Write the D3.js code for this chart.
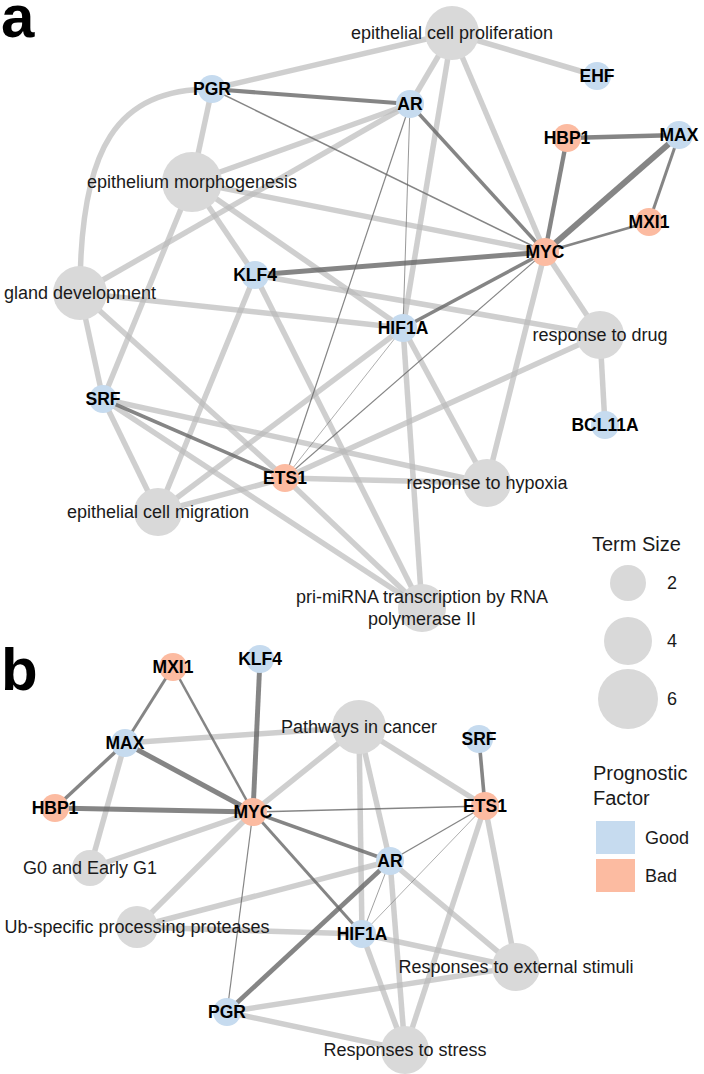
<!DOCTYPE html>
<html><head><meta charset="utf-8">
<script src="https://cdn.jsdelivr.net/npm/d3@7"></script>
<style>
html,body{margin:0;padding:0;background:#fff;}
svg{display:block;font-family:"Liberation Sans",Arial,Helvetica,sans-serif;}
</style></head>
<body>
<svg id="chart" width="704" height="1074"></svg>
<script>
// ---------- DATA ----------
// Panel a: gene nodes [name, layoutX, layoutY, prognosis]
const genesA = [
  ["PGR",21.2,8.9,"Good"],["AR",41.0,10.4,"Good"],["EHF",59.7,7.6,"Good"],
  ["HBP1",56.7,13.8,"Bad"],["MAX",67.9,13.5,"Good"],["MXI1",64.9,22.2,"Bad"],
  ["MYC",54.5,25.2,"Bad"],["KLF4",25.5,27.5,"Good"],["HIF1A",40.3,32.8,"Good"],
  ["BCL11A",60.5,42.5,"Good"],["SRF",10.3,39.9,"Good"],["ETS1",28.5,47.8,"Bad"]
];
// Panel a: term nodes [label, layoutX, layoutY, termSize]
const termsA = [
  ["epithelial cell proliferation",45.2,3.3,5],
  ["epithelium morphogenesis",19.2,18.2,6],
  ["gland development",8.0,29.3,5],
  ["response to drug",60.0,33.5,4],
  ["response to hypoxia",48.7,48.3,4],
  ["epithelial cell migration",15.8,51.2,4],
  ["pri-miRNA transcription by RNA\npolymerase II",42.2,60.8,4]
];
// Panel a: term-gene edges [term, gene, curved]
const termEdgesA = [
  ["epithelial cell proliferation","PGR"],["epithelial cell proliferation","EHF"],
  ["epithelial cell proliferation","AR"],["epithelial cell proliferation","HIF1A"],
  ["epithelial cell proliferation","MYC"],
  ["epithelium morphogenesis","PGR"],["epithelium morphogenesis","AR"],
  ["epithelium morphogenesis","MYC"],["epithelium morphogenesis","HIF1A"],
  ["epithelium morphogenesis","KLF4"],["epithelium morphogenesis","SRF"],
  ["gland development","PGR",true],["gland development","AR"],
  ["gland development","HIF1A"],["gland development","SRF"],["gland development","ETS1"],
  ["response to drug","MYC"],["response to drug","KLF4"],["response to drug","BCL11A"],
  ["response to drug","ETS1"],
  ["response to hypoxia","MYC"],["response to hypoxia","HIF1A"],
  ["response to hypoxia","SRF"],["response to hypoxia","ETS1"],
  ["epithelial cell migration","SRF"],["epithelial cell migration","KLF4"],
  ["epithelial cell migration","HIF1A"],["epithelial cell migration","ETS1"],
  ["pri-miRNA transcription by RNA\npolymerase II","SRF"],
  ["pri-miRNA transcription by RNA\npolymerase II","KLF4"],
  ["pri-miRNA transcription by RNA\npolymerase II","HIF1A"],
  ["pri-miRNA transcription by RNA\npolymerase II","ETS1"]
];
// Panel a: gene-gene interaction edges [gene, gene, score]
const geneEdgesA = [
  ["PGR","AR",0.68],["PGR","MYC",0.25],["AR","MYC",0.58],["AR","HIF1A",0.14],
  ["AR","ETS1",0.2],["HBP1","MAX",0.72],["HBP1","MYC",0.72],["MAX","MYC",1.0],
  ["MAX","MXI1",0.5],["MXI1","MYC",0.42],["KLF4","MYC",0.82],["HIF1A","MYC",0.6],
  ["MYC","ETS1",0.18],["HIF1A","ETS1",0.11],["SRF","ETS1",0.6]
];

// Panel b
const genesB = [
  ["MXI1",17.3,2.7,"Bad"],["KLF4",26.0,1.9,"Good"],["MAX",12.5,10.3,"Good"],
  ["HBP1",5.5,16.8,"Bad"],["MYC",25.3,17.2,"Bad"],["SRF",47.9,9.9,"Good"],
  ["ETS1",48.5,16.6,"Bad"],["AR",39.0,22.1,"Good"],["HIF1A",36.2,29.4,"Good"],
  ["PGR",22.7,37.2,"Good"]
];
const termsB = [
  ["Pathways in cancer",35.9,8.7,5],
  ["G0 and Early G1",9.0,22.8,2],
  ["Ub-specific processing proteases",13.7,28.7,3],
  ["Responses to external stimuli",51.6,32.7,4],
  ["Responses to stress",40.5,41.0,4]
];
const termEdgesB = [
  ["Pathways in cancer","MAX"],["Pathways in cancer","MYC"],["Pathways in cancer","ETS1"],
  ["Pathways in cancer","AR"],["Pathways in cancer","HIF1A"],
  ["G0 and Early G1","MAX"],["G0 and Early G1","MYC"],
  ["Ub-specific processing proteases","MYC"],["Ub-specific processing proteases","AR"],
  ["Ub-specific processing proteases","HIF1A"],
  ["Responses to external stimuli","AR"],["Responses to external stimuli","ETS1"],
  ["Responses to external stimuli","HIF1A"],["Responses to external stimuli","PGR"],
  ["Responses to stress","PGR"],["Responses to stress","HIF1A"],
  ["Responses to stress","AR"],["Responses to stress","ETS1"]
];
const geneEdgesB = [
  ["MXI1","MAX",0.5],["MXI1","MYC",0.42],["KLF4","MYC",0.82],["MAX","MYC",0.85],
  ["MAX","HBP1",0.58],["HBP1","MYC",0.85],["MYC","ETS1",0.22],["MYC","AR",0.58],
  ["MYC","HIF1A",0.5],["MYC","PGR",0.2],["SRF","ETS1",0.6],["ETS1","AR",0.22],
  ["ETS1","HIF1A",0.11],["AR","HIF1A",0.13],["AR","PGR",0.78]
];

// Legend data
const sizeLegend = [2,4,6];
const prognosisCats = ["Good","Bad"];

// ---------- STYLE / SCALES ----------
const svg = d3.select("#chart");
const W = 704, H = 1074;
const x = d3.scaleLinear().domain([0,70.4]).range([0,W]);
const yA = d3.scaleLinear().domain([0,64]).range([0,640]);
const yB = d3.scaleLinear().domain([0,43.4]).range([640,H]);
const rTerm = d3.scaleLinear().domain([2,6]).range([18,30]);
const wEdge = d3.scaleLinear().domain([0,1]).range([0,6]);
const color = d3.scaleOrdinal().domain(prognosisCats).range(["#c6dbef","#fcbba1"]);
const geneR = 14;
const termFill = "#d9d9d9";

function drawPanel(genes, terms, termEdges, geneEdges, y, letter, letterY) {
  const g = svg.append("g");
  const pos = new Map();
  genes.forEach(d => pos.set(d[0], {x: x(d[1]), y: y(d[2])}));
  terms.forEach(d => pos.set(d[0], {x: x(d[1]), y: y(d[2])}));

  // light term-gene edges
  g.append("g").selectAll("path").data(termEdges).join("path")
    .attr("d", d => {
      const s = pos.get(d[0]), t = pos.get(d[1]);
      if (d[2]) {
        const k = 0.72;
        return `M${s.x},${s.y}C${s.x},${s.y + k*(t.y - s.y)} ${t.x - k*(t.x - s.x)},${t.y} ${t.x},${t.y}`;
      }
      return `M${s.x},${s.y}L${t.x},${t.y}`;
    })
    .attr("fill","none").attr("stroke","#bbbbbb").attr("stroke-opacity",0.7)
    .attr("stroke-width",5.5);

  // dark gene-gene edges
  g.append("g").selectAll("line").data(geneEdges).join("line")
    .attr("x1", d => pos.get(d[0]).x).attr("y1", d => pos.get(d[0]).y)
    .attr("x2", d => pos.get(d[1]).x).attr("y2", d => pos.get(d[1]).y)
    .attr("stroke","#666666").attr("stroke-opacity",0.8)
    .attr("stroke-width", d => wEdge(d[2]));

  // term nodes
  g.append("g").selectAll("circle").data(terms).join("circle")
    .attr("cx", d => x(d[1])).attr("cy", d => y(d[2]))
    .attr("r", d => rTerm(d[3])).attr("fill", termFill);

  // gene nodes
  g.append("g").selectAll("circle").data(genes).join("circle")
    .attr("cx", d => x(d[1])).attr("cy", d => y(d[2]))
    .attr("r", geneR).attr("fill", d => color(d[3]));

  // term labels
  const tl = g.append("g").selectAll("text").data(terms).join("text")
    .attr("x", d => x(d[1])).attr("y", d => y(d[2]))
    .attr("text-anchor","middle").attr("font-size",18).attr("fill","#1a1a1a");
  tl.each(function(d) {
    const lines = d[0].split("\n");
    const lh = 22;
    const sel = d3.select(this);
    lines.forEach((ln, i) => {
      sel.append("tspan").attr("x", x(d[1]))
        .attr("y", y(d[2]) + (i - (lines.length - 1) / 2) * lh)
        .attr("dy","0.35em").text(ln);
    });
  });

  // gene labels
  g.append("g").selectAll("text").data(genes).join("text")
    .attr("x", d => x(d[1])).attr("y", d => y(d[2])).attr("dy","0.36em")
    .attr("text-anchor","middle").attr("font-size",17.5).attr("font-weight","bold")
    .attr("fill","#000").text(d => d[0]);

  svg.append("text").attr("x",1).attr("y",letterY)
    .attr("font-size",60).attr("font-weight","bold").attr("fill","#000").text(letter);
}

drawPanel(genesA, termsA, termEdgesA, geneEdgesA, yA, "a", 37);
drawPanel(genesB, termsB, termEdgesB, geneEdgesB, yB, "b", 690);

// ---------- LEGENDS ----------
const leg = svg.append("g");
leg.append("text").attr("x",592).attr("y",551).attr("font-size",20).attr("fill","#1a1a1a").text("Term Size");
const sizeY = d3.scalePoint().domain(sizeLegend).range([583,699]);
leg.selectAll("circle.sz").data(sizeLegend).join("circle").attr("class","sz")
  .attr("cx",628).attr("cy", d => sizeY(d)).attr("r", d => rTerm(d)).attr("fill",termFill);
leg.selectAll("text.sz").data(sizeLegend).join("text").attr("class","sz")
  .attr("x",667).attr("y", d => sizeY(d)).attr("dy","0.36em")
  .attr("font-size",18).attr("fill","#1a1a1a").text(d => d);

leg.append("text").attr("x",593).attr("y",780).attr("font-size",20).attr("fill","#1a1a1a").text("Prognostic");
leg.append("text").attr("x",593).attr("y",805).attr("font-size",20).attr("fill","#1a1a1a").text("Factor");
const keyY = d3.scalePoint().domain(prognosisCats).range([821,859]);
leg.selectAll("rect.pf").data(prognosisCats).join("rect").attr("class","pf")
  .attr("x",596).attr("y", d => keyY(d)).attr("width",39).attr("height",33)
  .attr("fill", d => color(d));
leg.selectAll("text.pf").data(prognosisCats).join("text").attr("class","pf")
  .attr("x",645).attr("y", d => keyY(d) + 16.5).attr("dy","0.36em")
  .attr("font-size",18).attr("fill","#1a1a1a").text(d => d);
</script>
</body></html>
